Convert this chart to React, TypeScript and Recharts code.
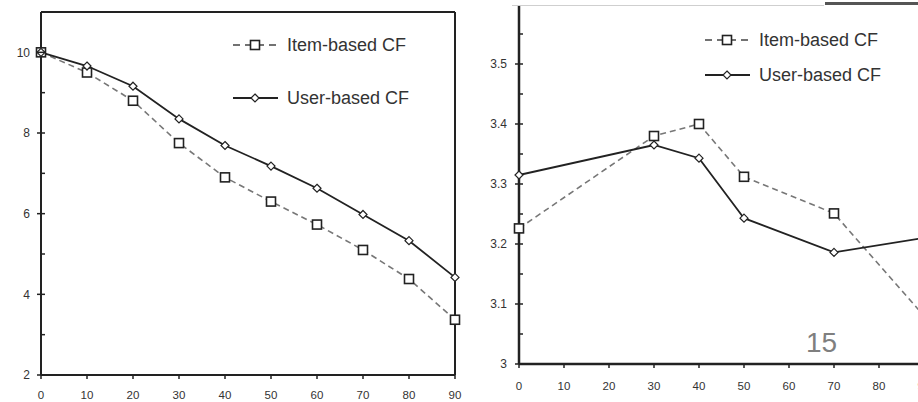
import React from 'react';
import { LineChart, Line, XAxis, YAxis, ReferenceLine, Legend } from 'recharts';

// left panel: x = 0..90, every 10
const leftX = [0, 10, 20, 30, 40, 50, 60, 70, 80, 90];
const leftItem = [10, 9.5, 8.8, 7.75, 6.9, 6.3, 5.73, 5.1, 4.38, 3.37];
const leftUser = [10, 9.66, 9.16, 8.35, 7.69, 7.18, 6.63, 5.98, 5.33, 4.42];

// right panel: only some x values are sampled
const rightX = [0, 30, 40, 50, 70, 90];
const rightItem = [3.226, 3.38, 3.4, 3.312, 3.251, 3.08];
const rightUser = [3.315, 3.365, 3.343, 3.243, 3.186, 3.21];

const xTicks = [0, 10, 20, 30, 40, 50, 60, 70, 80, 90];
const leftMajor = [2, 4, 6, 8, 10];
const leftMinor = [3, 5, 7, 9];
const rightMajor = [3, 3.1, 3.2, 3.3, 3.4, 3.5, 3.6];
const rightMinor = [3.05, 3.15, 3.25, 3.35, 3.45, 3.55];

const ITEM_LABEL = 'Item-based CF';
const USER_LABEL = 'User-based CF';

const FONT = 'Arial, "Liberation Sans", sans-serif';
const INK = '#222';

const leftData = leftX.map((x, i) => ({ x, item: leftItem[i], user: leftUser[i] }));
const rightData = rightX.map((x, i) => ({ x, item: rightItem[i], user: rightUser[i] }));

const SquareDot = ({ cx, cy }: any) => {
  if (cx == null || cy == null) return null;
  return <rect x={cx - 4.5} y={cy - 4.5} width={9} height={9} fill="#fff" stroke={INK} strokeWidth={1.6} />;
};

const DiamondDot = ({ cx, cy }: any) => {
  if (cx == null || cy == null) return null;
  const r = 4;
  return (
    <polygon
      points={`${cx},${cy - r} ${cx + r},${cy} ${cx},${cy + r} ${cx - r},${cy}`}
      fill="#fff"
      stroke={INK}
      strokeWidth={1.2}
    />
  );
};

// tickSize/tickMargin are 0 on the axes, so x/y here sit right on the axis line
const YTick = ({ x, y, payload, majors, labelGap, hideTop }: any) => {
  const v = payload.value;
  const major = majors.includes(v);
  const showLabel = major && !(hideTop && v === hideTop);
  return (
    <g>
      <line x1={major ? x - 4 : x} x2={x + 4} y1={y} y2={y} stroke={INK} strokeWidth={1.5} />
      {showLabel && (
        <text x={x - labelGap} y={y} dy="0.36em" textAnchor="end" fontSize={12} fontFamily={FONT} fill="#333">
          {v}
        </text>
      )}
    </g>
  );
};

const XTick = ({ x, y, payload, labelGap }: any) => (
  <g>
    <line x1={x} x2={x} y1={y} y2={y + 4} stroke={INK} strokeWidth={1.5} />
    <text x={x} y={y + labelGap} dy="0.36em" textAnchor="middle" fontSize={11.5} fontFamily={FONT} fill="#333">
      {payload.value}
    </text>
  </g>
);

const LegendBox = ({ rowGap }: { rowGap: number }) => (
  <svg width={220} height={rowGap + 30} style={{ display: 'block' }}>
    <g>
      <line x1={0} x2={45} y1={15} y2={15} stroke="#444" strokeWidth={1.6} strokeDasharray="7 5" />
      <SquareDot cx={22} cy={15} />
      <text x={54} y={15} dy="0.36em" fontSize={18} fontFamily={FONT} fill="#333">{ITEM_LABEL}</text>
    </g>
    <g>
      <line x1={0} x2={45} y1={15 + rowGap} y2={15 + rowGap} stroke={INK} strokeWidth={1.8} />
      <DiamondDot cx={22} cy={15 + rowGap} />
      <text x={54} y={15 + rowGap} dy="0.36em" fontSize={18} fontFamily={FONT} fill="#333">{USER_LABEL}</text>
    </g>
  </svg>
);

const LeftPanel = () => (
  <LineChart width={470} height={402} data={leftData} margin={{ top: 12, right: 15, bottom: 0, left: 0 }}>
    <XAxis
      dataKey="x"
      type="number"
      domain={[0, 90]}
      ticks={xTicks}
      interval={0}
      height={27}
      tickSize={0}
      tickMargin={0}
      tickLine={false}
      axisLine={{ stroke: INK, strokeWidth: 2 }}
      tick={<XTick labelGap={20} />}
    />
    <YAxis
      type="number"
      domain={[2, 11]}
      ticks={[...leftMajor, ...leftMinor]}
      interval={0}
      width={41}
      tickSize={0}
      tickMargin={0}
      tickLine={false}
      axisLine={{ stroke: INK, strokeWidth: 2 }}
      tick={<YTick majors={leftMajor} labelGap={11} />}
    />
    {/* frame: top and right edges */}
    <ReferenceLine y={11} stroke={INK} strokeWidth={2} />
    <ReferenceLine x={90} stroke={INK} strokeWidth={2} />
    <Legend
      layout="horizontal"
      verticalAlign="middle"
      align="center"
      wrapperStyle={{ left: 233, top: 30, width: 220 }}
      content={() => <LegendBox rowGap={53} />}
    />
    <Line
      type="linear"
      dataKey="item"
      name={ITEM_LABEL}
      stroke="#777"
      strokeWidth={1.6}
      strokeDasharray="6 4"
      dot={<SquareDot />}
      activeDot={false}
      isAnimationActive={false}
    />
    <Line
      type="linear"
      dataKey="user"
      name={USER_LABEL}
      stroke={INK}
      strokeWidth={1.8}
      dot={<DiamondDot />}
      activeDot={false}
      isAnimationActive={false}
    />
  </LineChart>
);

const RightPanel = () => (
  <LineChart width={470} height={402} data={rightData} margin={{ top: 4, right: 16, bottom: 0, left: 0 }}>
    <XAxis
      dataKey="x"
      type="number"
      domain={[0, 90]}
      ticks={xTicks}
      interval={0}
      height={38}
      tickSize={0}
      tickMargin={0}
      tickLine={false}
      axisLine={{ stroke: INK, strokeWidth: 2.5 }}
      tick={<XTick labelGap={22} />}
    />
    <YAxis
      type="number"
      domain={[3, 3.6]}
      ticks={[...rightMajor, ...rightMinor]}
      interval={0}
      width={49}
      tickSize={0}
      tickMargin={0}
      tickLine={false}
      axisLine={{ stroke: INK, strokeWidth: 2.5 }}
      tick={<YTick majors={rightMajor} labelGap={12} hideTop={3.6} />}
    />
    <Legend
      layout="horizontal"
      verticalAlign="middle"
      align="center"
      wrapperStyle={{ left: 235, top: 25, width: 220 }}
      content={() => <LegendBox rowGap={35} />}
    />
    <Line
      type="linear"
      dataKey="item"
      name={ITEM_LABEL}
      stroke="#777"
      strokeWidth={1.6}
      strokeDasharray="6 4"
      dot={<SquareDot />}
      activeDot={false}
      isAnimationActive={false}
    />
    <Line
      type="linear"
      dataKey="user"
      name={USER_LABEL}
      stroke={INK}
      strokeWidth={1.8}
      dot={<DiamondDot />}
      activeDot={false}
      isAnimationActive={false}
    />
  </LineChart>
);

export default function App() {
  return (
    <div style={{ position: 'fixed', left: 0, top: 0, width: 918, height: 402, overflow: 'hidden', background: '#fff' }}>
      <div style={{ position: 'absolute', left: 0, top: 0 }}>
        <LeftPanel />
      </div>
      <div style={{ position: 'absolute', left: 470, top: 0 }}>
        <RightPanel />
      </div>
      {/* remains of the slide header over the right panel */}
      <div style={{ position: 'absolute', left: 512, top: 0, width: 312, height: 5, background: '#fff', borderBottom: '1px solid #cfcfcf' }} />
      <div style={{ position: 'absolute', left: 825, top: 2, width: 93, height: 3, background: '#555' }} />
      {/* slide number */}
      <div style={{ position: 'absolute', left: 806, top: 329, fontSize: 28, lineHeight: 1, fontFamily: FONT, color: '#7f7f7f' }}>
        15
      </div>
    </div>
  );
}
